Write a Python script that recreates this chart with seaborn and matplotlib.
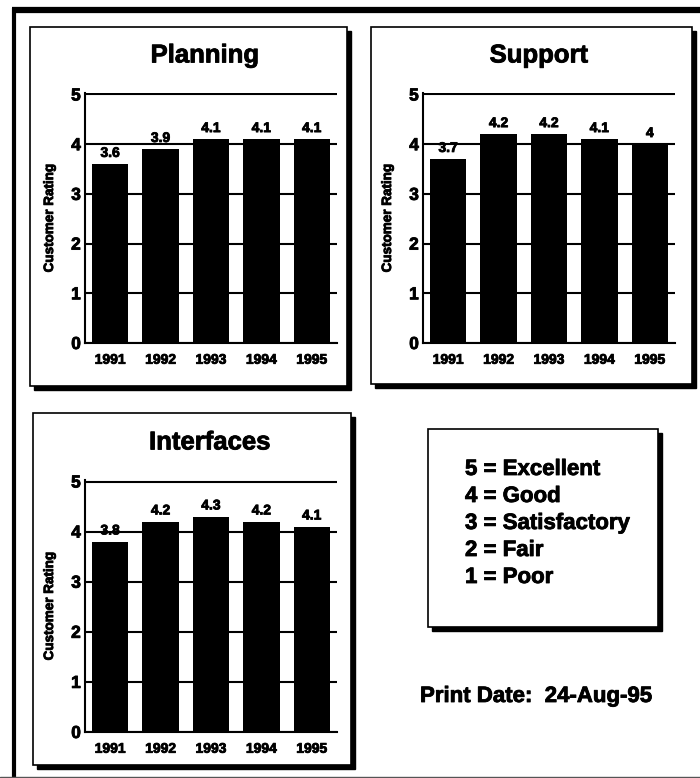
"""
Customer rating panels (Planning / Support / Interfaces) with rating key
"""

import matplotlib
matplotlib.use("Agg")
import matplotlib.pyplot as plt
import matplotlib.patheffects as pe
from matplotlib.patches import Rectangle
from matplotlib.lines import Line2D
import seaborn as sns

# Data
years = ['1991', '1992', '1993', '1994', '1995']
planning = [3.6, 3.9, 4.1, 4.1, 4.1]
support = [3.7, 4.2, 4.2, 4.1, 4.0]
interfaces = [3.8, 4.2, 4.3, 4.2, 4.1]
panel_titles = ['Planning', 'Support', 'Interfaces']
rating_key = ['5 = Excellent', '4 = Good', '3 = Satisfactory', '2 = Fair', '1 = Poor']
print_date = 'Print Date:  24-Aug-95'

sns.set_theme(style='white')
plt.rcParams['font.family'] = ['Liberation Sans', 'DejaVu Sans']
plt.rcParams['font.weight'] = 'bold'

W, H = 700, 778
fig = plt.figure(figsize=(W / 100, H / 100), dpi=100)
fig.patch.set_facecolor('white')

# slightly heavier strokes, like the photocopied original
heavy = [pe.withStroke(linewidth=0.6, foreground='black')]


def px_rect(x0, y0, x1, y1):
    # pixel box (top-left origin) -> figure fraction rect
    return [x0 / W, 1 - y1 / H, (x1 - x0) / W, (y1 - y0) / H]


def shadow_box(x0, y0, x1, y1, off=4):
    # drop shadow then white box with black edge, kept behind the axes
    sx, sy, sw, sh = px_rect(x0 + off, y0 + off, x1 + off, y1 + off)
    fig.patches.append(Rectangle((sx, sy), sw, sh, transform=fig.transFigure,
                                 facecolor='black', edgecolor='black', zorder=-3))
    bx, by, bw, bh = px_rect(x0, y0, x1, y1)
    fig.patches.append(Rectangle((bx, by), bw, bh, transform=fig.transFigure,
                                 facecolor='white', edgecolor='black', lw=1.2, zorder=-2))


# outer frame: thick top and left rule, thin bottom rule
fig.add_artist(Line2D([12 / W, 1], [1 - 10 / H, 1 - 10 / H], color='black', lw=4.5,
                      solid_capstyle='butt', transform=fig.transFigure))
fig.add_artist(Line2D([14 / W, 14 / W], [0, 1 - 8 / H], color='black', lw=3,
                      solid_capstyle='butt', transform=fig.transFigure))
fig.add_artist(Line2D([0, 1], [1 - 776.5 / H, 1 - 776.5 / H], color='#555555', lw=1,
                      transform=fig.transFigure))

# panel boxes
shadow_box(30, 27, 347, 386)
shadow_box(371, 27, 692, 384)
shadow_box(33, 413, 351, 765)
shadow_box(428, 429, 658, 627)

axes_px = [(85, 93, 337, 343), (423, 93, 675, 343), (85, 480, 337, 732)]
title_x = [0.476, 0.46, 0.496]
series = [planning, support, interfaces]

for title, vals, (x0, y0, x1, y1), tx in zip(panel_titles, series, axes_px, title_x):
    ax = fig.add_axes(px_rect(x0, y0, x1, y1))
    ax.set_facecolor('none')
    sns.barplot(x=years, y=vals, color='black', saturation=1, width=0.72,
                linewidth=0, ax=ax, zorder=3)
    ax.set_xlim(-0.5, 4.5)
    ax.set_ylim(0, 5.03)
    ax.set_yticks([0, 1, 2, 3, 4, 5])

    ax.set_axisbelow(True)
    ax.yaxis.grid(True, color='black', lw=1.5)
    ax.xaxis.grid(False)
    for side in ['top', 'right']:
        ax.spines[side].set_visible(False)
    for side in ['left', 'bottom']:
        ax.spines[side].set_color('black')
        ax.spines[side].set_linewidth(1.5)

    ax.set_xticks([0.5, 1.5, 2.5, 3.5, 4.5], minor=True)
    ax.tick_params(axis='x', which='major', length=0, pad=7, labelsize=10)
    ax.tick_params(axis='x', which='minor', direction='in', length=4, width=1.5, color='black')
    ax.tick_params(axis='y', length=0, pad=3, labelsize=12.5)
    for lab in ax.get_xticklabels() + ax.get_yticklabels():
        lab.set_fontweight('bold')
        lab.set_color('black')
        lab.set_path_effects(heavy)

    texts = ax.bar_label(ax.containers[0], labels=[f'{v:g}' for v in vals], padding=3,
                         fontsize=10, fontweight='bold', color='black')
    for t in texts:
        t.set_path_effects(heavy)

    ax.set_title(title, fontsize=18.5, fontweight='bold', pad=22, color='black',
                 x=tx, path_effects=heavy)
    ax.set_ylabel('Customer Rating', fontsize=9.7, fontweight='bold', color='black',
                  path_effects=heavy)
    ax.yaxis.set_label_coords(-0.115, 0.5)
    ax.set_xlabel('')

# rating key
for i, line in enumerate(rating_key):
    fig.text(465 / W, 1 - (475 + i * 27) / H, line, fontsize=16, fontweight='bold',
             va='baseline', ha='left', color='black', path_effects=heavy)

fig.text(420 / W, 1 - 702 / H, print_date, fontsize=16, fontweight='bold',
         va='baseline', ha='left', color='black', path_effects=heavy)

fig.savefig('out.png', dpi=100)
